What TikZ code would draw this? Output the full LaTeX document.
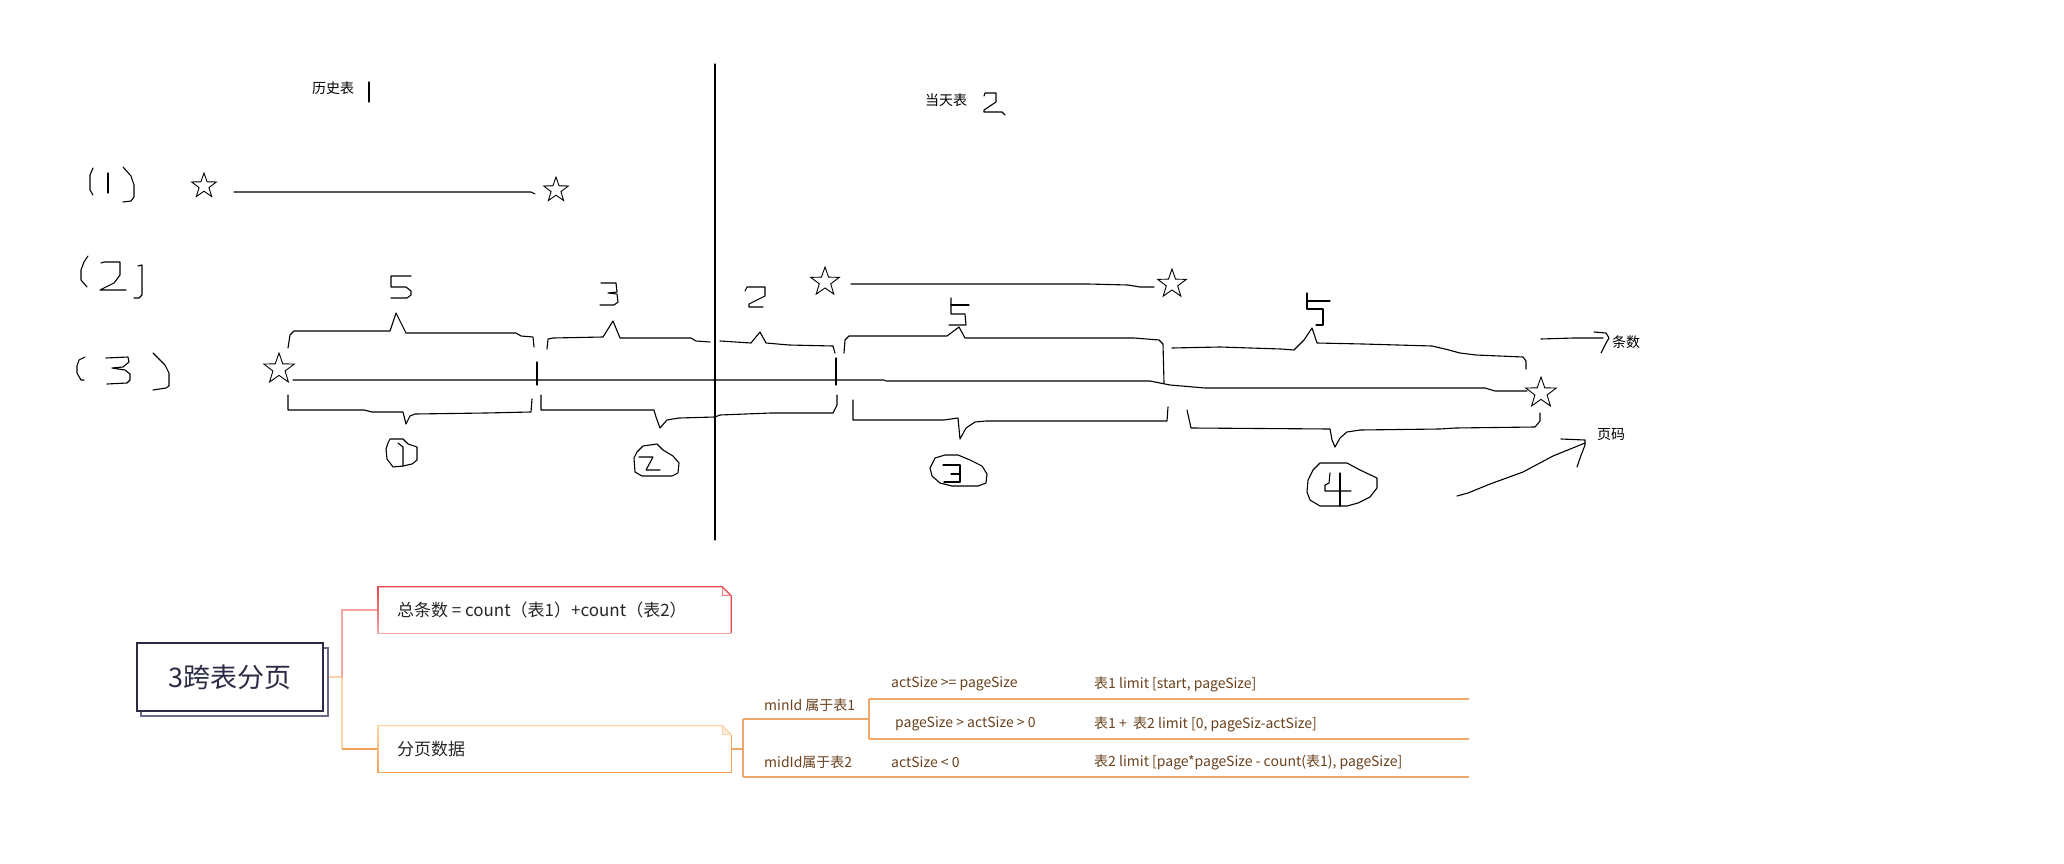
\documentclass[tikz,border=0pt]{standalone}
\usepackage{fontspec}
\setmainfont{Liberation Sans}
\newfontfamily\cjk{Noto Sans CJK SC}
\usetikzlibrary{shapes.geometric}
\definecolor{rootc}{HTML}{2B2B45}
\definecolor{shadc}{HTML}{6A6A88}
\definecolor{redc}{HTML}{E8474A}
\definecolor{pinkc}{HTML}{F7A3A3}
\definecolor{orlight}{HTML}{FBD3A5}
\definecolor{orc}{HTML}{F2A257}
\definecolor{subc}{HTML}{EFA769}
\definecolor{brownc}{HTML}{6B421E}
\begin{document}
\begin{tikzpicture}[x=1pt,y=-1pt,
  hand/.style={line width=1.1pt, line join=round, line cap=round},
  starn/.style={star, star points=5, star point ratio=2.5, draw, line width=0.9pt, minimum size=30pt, inner sep=0pt},
  lbl/.style={font=\cjk\fontsize{14}{16}\selectfont, inner sep=0pt},
  rootbox/.style={draw=rootc, line width=1.2pt, fill=white, minimum width=186pt, minimum height=68pt, inner sep=0pt, font=\cjk\fontsize{27}{30}\selectfont, text=rootc},
  boxn/.style={minimum width=353pt, minimum height=46pt, inner sep=0pt},
  boxtxt/.style={font=\cjk\fontsize{17}{20}\selectfont, text=black!85, inner sep=0pt},
  subtxt/.style={font=\cjk\fontsize{14}{16}\selectfont, text=brownc, inner sep=0pt},
  sub/.style={line width=1.1pt, subc},
  mm/.style={line width=1.2pt}]
\useasboundingbox (0,0) rectangle (2064,864);
\fill[white] (0,0) rectangle (2064,864);

% ---------- sketch ----------
\draw[hand] (715,64) -- (715,540);
\node[lbl] (hist) at (333,88) {历史表};
\draw[hand] (369,82) -- (369,102);
\node[lbl] (today) at (946,100) {当天表};
\draw[hand] (984,96) -- (985,93) -- (996,93) -- (996,102) -- (984,110) -- (984,112) -- (1002,112) -- (1005,115);

% row labels
\draw[hand] (93,168) -- (90,175) -- (90,190) -- (93,195);
\draw[hand] (108,173) -- (108,193);
\draw[hand] (123,167) -- (131,176) -- (134,185) -- (134,197) -- (131,201) -- (123,202);
\draw[hand] (88,256) -- (84,262) -- (81,270) -- (81,280) -- (87,287);
\draw[hand] (101,263) -- (104,262) -- (120,262) -- (120,275) -- (114,283) -- (106,287) -- (100,290) -- (126,290);
\draw[hand] (138,266) -- (142,265) -- (142,295) -- (139,298) -- (134,298);
\draw[hand] (85,357) -- (79,360) -- (77,366) -- (77,373) -- (81,380) -- (84,380);
\draw[hand] (106,358) -- (128,357) -- (129,362) -- (123,367) -- (112,368) -- (125,370) -- (130,374) -- (130,380) -- (127,383) -- (107,384);
\draw[hand] (153,353) -- (158,358) -- (165,365) -- (169,373) -- (169,386) -- (166,388) -- (153,390);

% stars
\node[starn, minimum size=26pt] (s1) at (204,186) {};
\node[starn, minimum size=26pt] (s2) at (556,190) {};
\node[starn] (s3) at (825,282) {};
\node[starn] (s4) at (1172,284) {};
\node[starn, minimum size=32pt] (s5) at (279,369) {};
\node[starn, minimum size=32pt] (s6) at (1541,393) {};

\draw[hand] ([xshift=30pt,yshift=-6pt]s1.center) -- (531,192) -- ([xshift=-21pt,yshift=-4pt]s2.center);
\draw[hand] ([xshift=26pt,yshift=-2pt]s3.center) -- (1088,284) -- (1128,285) -- (1140,287) -- ([xshift=-18pt,yshift=-3pt]s4.center);
\draw[hand] ([xshift=14pt,yshift=-11pt]s5.center) -- (884,380) -- (886,381) -- (1150,381) -- (1170,385) -- (1205,388) -- (1485,388) -- (1495,391) -- ([xshift=-14pt,yshift=2pt]s6.center);

% ticks on the line
\draw[hand] (537,362) -- (537,385);
\draw[hand] (836,358) -- (836,385);

% upper braces
\draw[hand] (288,348) -- (290,335) -- (294,331) -- (390,331) -- (396,313) -- (406,333) -- (429,333) -- (516,333) -- (521,336) -- (533,337) -- (534,347);
\draw[hand] (547,349) -- (548,339) -- (553,338) -- (603,337) -- (613,321) -- (620,338) -- (691,338) -- (696,341) -- (710,342);
\draw[hand] (720,341) -- (751,343) -- (760,332) -- (766,343) -- (789,345) -- (833,346) -- (835,353);
\draw[hand] (844,353) -- (845,340) -- (849,336) -- (947,336) -- (959,327) -- (965,338) -- (1134,338) -- (1159,340) -- (1163,344) -- (1164,383);
\draw[hand] (1172,348) -- (1220,347) -- (1281,349) -- (1294,350) -- (1304,340) -- (1312,328) -- (1317,343) -- (1363,344) -- (1432,346) -- (1445,349) -- (1460,353) -- (1476,355) -- (1523,357) -- (1526,361) -- (1526,369);

% brace numbers
\draw[hand] (411,276) -- (391,276) -- (391,287) -- (406,287) -- (411,291) -- (411,295) -- (407,298) -- (391,298);
\draw[hand] (601,283) -- (616,283) -- (617,292) -- (608,293) -- (617,294) -- (618,302) -- (614,305) -- (600,305);
\draw[hand] (745,291) -- (747,287) -- (765,287) -- (765,296) -- (749,304) -- (749,307) -- (763,307);
\draw[hand] (951,298) -- (951,314) -- (965,314) -- (966,325) -- (949,325);
\draw[hand] (951,305) -- (969,305);
\draw[hand] (1307,293) -- (1307,309) -- (1323,309) -- (1323,325) -- (1316,325);
\draw[hand] (1307,301) -- (1330,301);

% lower braces
\draw[hand] (288,395) -- (288,410) -- (364,410) -- (372,412) -- (403,412) -- (406,424) -- (410,416) -- (415,414) -- (486,413) -- (531,412) -- (532,399);
\draw[hand] (541,395) -- (541,410) -- (654,410) -- (656,417) -- (660,428) -- (667,420) -- (679,418) -- (715,417) -- (720,415) -- (771,413) -- (833,413) -- (837,405) -- (837,395);
\draw[hand] (853,400) -- (853,420) -- (944,420) -- (958,418) -- (960,439) -- (966,428) -- (975,422) -- (986,421) -- (1167,421) -- (1168,407);
\draw[hand] (1187,410) -- (1191,428) -- (1330,429) -- (1332,440) -- (1335,447) -- (1340,438) -- (1347,432) -- (1360,430) -- (1440,429) -- (1455,428) -- (1535,427) -- (1540,421) -- (1540,413);

% circled numbers
\draw[hand] (390,439) -- (403,439) -- (408,444) -- (417,447) -- (417,460) -- (412,464) -- (403,466) -- (393,467) -- (387,459) -- (386,449) -- (388,443) -- cycle;
\draw[hand] (398,443) -- (403,447) -- (403,466);
\draw[hand] (643,446) -- (657,444) -- (663,450) -- (673,456) -- (679,463) -- (678,473) -- (672,476) -- (642,476) -- (635,472) -- (634,458) -- (637,452) -- cycle;
\draw[hand] (639,457) -- (653,457) -- (646,470) -- (660,470);
\draw[hand] (935,458) -- (945,455) -- (958,455) -- (970,460) -- (982,466) -- (987,474) -- (986,483) -- (978,486) -- (952,486) -- (940,483) -- (932,476) -- (930,468) -- cycle;
\draw[hand] (943,465) -- (960,465) -- (960,482) -- (944,482);
\draw[hand] (951,474) -- (960,474);
\draw[hand] (1320,463) -- (1347,463) -- (1360,470) -- (1377,478) -- (1377,488) -- (1370,497) -- (1358,503) -- (1347,506) -- (1320,506) -- (1310,500) -- (1307,492) -- (1308,480) -- (1313,470) -- cycle;
\draw[hand] (1330,473) -- (1329,483) -- (1325,485) -- (1325,491) -- (1351,491);
\draw[hand] (1340,473) -- (1340,506);

% arrows and labels
\node[lbl, anchor=west] (tiao) at (1612,342) {条数};
\node[lbl, anchor=west] (ye) at (1597,435) {页码};
\draw[hand] (1541,339) -- (1574,338) -- (1603,338);
\draw[hand] (1594,332) -- (1606,333) -- (1609,338) -- (1606,343) -- (1601,353);
\draw[hand] (1457,496) -- (1468,493) -- (1490,484) -- (1523,472) -- (1553,456) -- (1585,443);
\draw[hand] (1561,439) -- (1585,440) -- (1585,445) -- (1580,458) -- (1577,467);

% ---------- mind map ----------
\draw[shadc, line width=1.1pt, fill=white] (141,648) rectangle (328,716);
\node[rootbox] (root) at (230,677) {3跨表分页};

\node[boxn] (b1) at (554.5,610) {};
\node[boxn] (b2) at (554.5,749) {};

\coordinate (rj) at (342,677);
\draw[mm, orlight] ([xshift=5pt]root.east) -- (rj);
\draw[mm, pinkc] (rj) |- (b1.west);
\draw[mm, orlight] (rj) -- (rj |- b2.west);
\draw[mm, orc] (rj |- b2.west) -- (b2.west);

% box 1
\fill[redc!8] ([xshift=-9pt]b1.north east) -- ([xshift=-9pt,yshift=-9pt]b1.north east) -- ([yshift=-9pt]b1.north east) -- cycle;
\draw[mm, redc, line join=miter] (b1.north west) -- ([xshift=-9pt]b1.north east) -- ([yshift=-9pt]b1.north east) -- (b1.south east);
\draw[line width=0.7pt, redc!70] ([xshift=-9pt]b1.north east) -- ([xshift=-9pt,yshift=-9pt]b1.north east) -- ([yshift=-9pt]b1.north east);
\draw[mm, pinkc] (b1.south east) -- (b1.south west);
\shade[top color=redc, bottom color=pinkc] ([xshift=-0.6pt]b1.north west) rectangle ([xshift=0.6pt]b1.south west);
\node[boxtxt, anchor=west] (t1) at ([xshift=19pt]b1.west) {总条数 = count（表1）+count（表2）};

% box 2
\fill[orlight!40] ([xshift=-9pt]b2.north east) -- ([xshift=-9pt,yshift=-9pt]b2.north east) -- ([yshift=-9pt]b2.north east) -- cycle;
\draw[mm, orlight] (b2.north west) -- ([xshift=-9pt]b2.north east) -- ([yshift=-9pt]b2.north east);
\draw[mm, orc] ([yshift=-9pt]b2.north east) -- (b2.south east) -- (b2.south west);
\draw[line width=0.7pt, orlight] ([xshift=-9pt]b2.north east) -- ([xshift=-9pt,yshift=-9pt]b2.north east) -- ([yshift=-9pt]b2.north east);
\shade[top color=orlight, bottom color=orc] ([xshift=-0.6pt]b2.north west) rectangle ([xshift=0.6pt]b2.south west);
\node[boxtxt, anchor=west] (t2) at ([xshift=19pt]b2.west) {分页数据};

% subtree
\coordinate (k) at (743,749);
\coordinate (ktop) at (743,719);
\coordinate (kbot) at (743,777);
\coordinate (m) at (869,719);
\coordinate (mtop) at (869,699);
\coordinate (mbot) at (869,739);
\coordinate (e1) at (1469,699);
\coordinate (e2) at (1469,739);
\coordinate (e3) at (1469,777);
\draw[sub] (b2.east) -- (k);
\draw[sub] (ktop) -- (kbot);
\draw[sub] (ktop) -- (m);
\draw[sub] (mtop) -- (mbot);
\draw[sub] (mtop) -- (e1);
\draw[sub] (mbot) -- (e2);
\draw[sub] (kbot) -- (e3);

\node[subtxt, anchor=west] (minid) at (764,705) {minId 属于表1};
\node[subtxt, anchor=west] (midid) at (764,762) {midId属于表2};
\node[subtxt, anchor=west] (c1) at (891,684) {actSize >= pageSize};
\node[subtxt, anchor=west] (c2) at (895,724) {pageSize > actSize > 0};
\node[subtxt, anchor=west] (c3) at (891,762) {actSize < 0};
\node[subtxt, anchor=west] (r1) at (1094,684) {表1 limit [start, pageSize]};
\node[subtxt, anchor=west] (r2) at (1094,724) {表1 +\ \ 表2 limit [0, pageSiz-actSize]};
\node[subtxt, anchor=west] (r3) at (1094,762) {表2 limit [page*pageSize - count(表1), pageSize]};
\end{tikzpicture}
\end{document}
